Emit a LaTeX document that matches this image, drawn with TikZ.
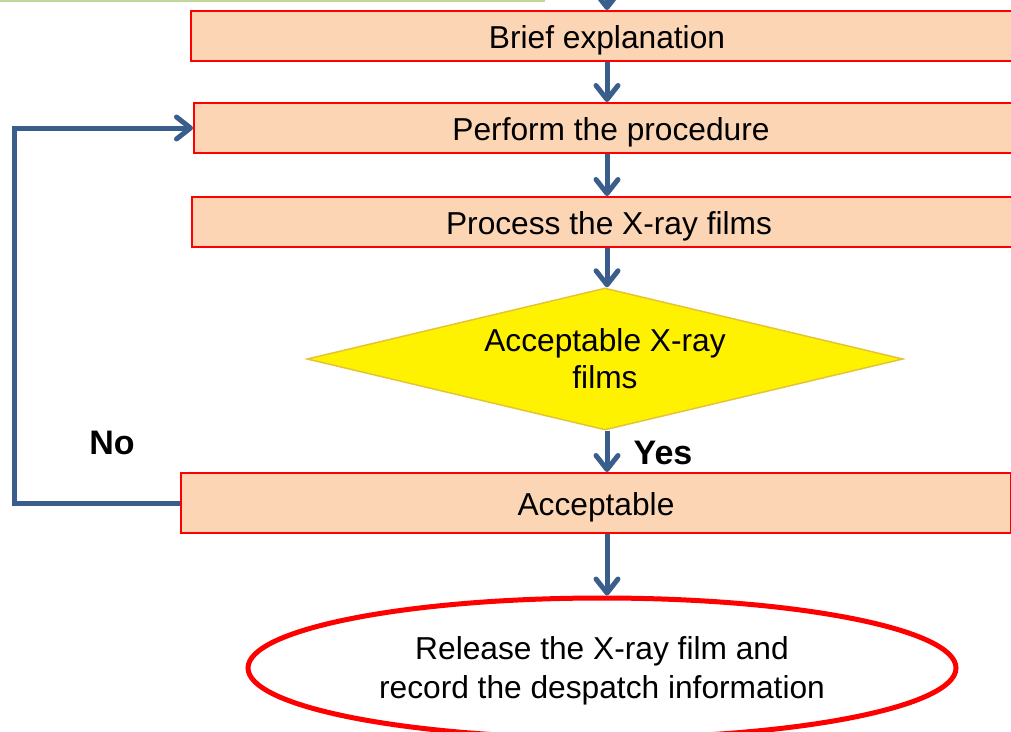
\documentclass[tikz,border=0pt]{standalone}
\usepackage{fontspec}
\setmainfont{Liberation Sans}
\usetikzlibrary{shapes.geometric,arrows.meta}

\definecolor{boxfill}{RGB}{252,213,180}
\definecolor{flowblue}{RGB}{58,94,140}
\definecolor{railgreen}{RGB}{196,215,155}
\definecolor{diamondedge}{RGB}{228,196,52}

\begin{document}
\begin{tikzpicture}[x=1pt,y=-1pt,
  stepbox/.style={rectangle, draw=red, line width=2pt, fill=boxfill,
    inner sep=0pt, text height=25pt, text depth=0pt,
    font=\fontsize{31.7}{37}\selectfont},
  decision/.style={diamond, aspect=4.2, draw=diamondedge, line width=1.5pt, fill=yellow,
    inner sep=0pt, text depth=0pt, align=center, font=\fontsize{31.7}{37}\selectfont},
  terminal/.style={ellipse, draw=red, line width=5pt, fill=white,
    inner sep=0pt, text depth=0pt, align=center, font=\fontsize{31.7}{39}\selectfont},
  flow/.style={draw=flowblue, line width=5pt, line join=miter,
    -{Straight Barb[length=14pt,width=22pt,round]}},
  answer/.style={font=\fontsize{34}{40}\selectfont\bfseries},
]
\useasboundingbox (0,0) rectangle (1011,731);
\clip (0,0) rectangle (1011,731);

% green rule along the top
\coordinate (ruleA) at (0,1);
\coordinate (ruleB) at (545,1);
\draw[railgreen, line width=2.5pt] (ruleA) -- (ruleB);

% guide coordinates for the vertical spine and the return loop
\coordinate (spine) at (607,0);
\coordinate (loopleft) at (14,0);
\coordinate (incoming) at (607,-40);

% process steps
\node[stepbox, minimum width=832pt, minimum height=50pt] (brief)   at (607,36)  {Brief explanation};
\node[stepbox, minimum width=834pt, minimum height=50pt] (perform) at (611,128) {Perform the procedure};
\node[stepbox, minimum width=834pt, minimum height=50pt] (process) at (609,222) {Process the X-ray films};
\node[decision, minimum width=596pt, minimum height=142pt] (decide) at (605,359) {Acceptable X-ray\\films};
\node[stepbox, minimum width=830pt, minimum height=60pt] (accept)  at (596,503) {Acceptable};
\node[terminal, minimum width=708pt, minimum height=140pt] (release) at (602,668)
  {Release the X-ray film and\\record the despatch information};

% main flow
\draw[flow] (incoming) -- (spine |- brief.north);
\draw[flow] (spine |- brief.south) -- (spine |- perform.north);
\draw[flow] (spine |- perform.south) -- (spine |- process.north);
\draw[flow] (spine |- process.south) -- (spine |- decide.north);
\draw[flow] (spine |- decide.south) -- (spine |- accept.north);
\draw[flow] (spine |- accept.south) -- (spine |- release.north);

% return loop
\draw[flow] (accept.west) -- (accept.west -| loopleft) |- (perform.west);

% answers
\node[answer] (no)  at (112,443) {No};
\node[answer] (yes) at (663,453) {Yes};
\end{tikzpicture}
\end{document}
